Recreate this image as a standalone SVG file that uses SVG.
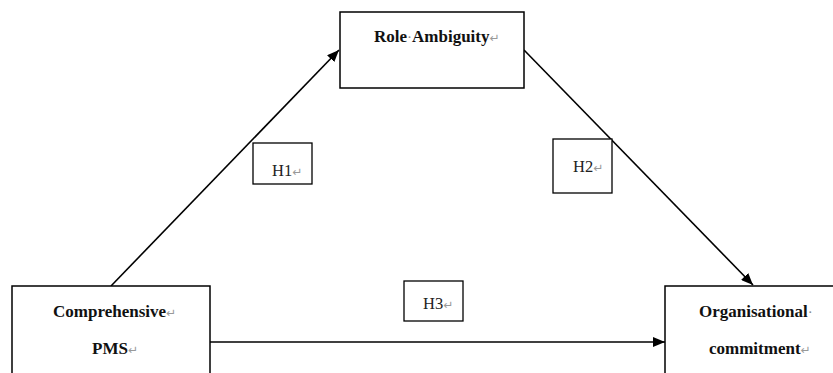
<svg xmlns="http://www.w3.org/2000/svg" width="833" height="373" viewBox="0 0 833 373">
<style>
.box{fill:#fff;stroke:#000;stroke-width:1.5}
.hbox{fill:#fff;stroke:#000;stroke-width:1.3}
.t{font-family:"Liberation Serif","Times New Roman",serif;font-size:17px;font-weight:bold;fill:#111}
.h{font-family:"Liberation Serif","Times New Roman",serif;font-size:16.5px;fill:#222}
.m{font-family:"DejaVu Sans",sans-serif;font-weight:normal;font-size:12px;fill:#999}
.d{font-family:"Liberation Serif",serif;font-weight:normal;font-size:15px;fill:#888}
.ln{stroke:#000;stroke-width:1.6;fill:none}
</style>
<defs>
<marker id="ah" viewBox="0 0 12 10" refX="12" refY="5" markerWidth="12" markerHeight="10" markerUnits="userSpaceOnUse" orient="auto">
<path d="M0,0 L12,5 L0,10 Z" fill="#000"/>
</marker>
</defs>
<rect width="833" height="373" fill="#fff"/>
<g id="connectors">
<line class="ln" x1="111" y1="286" x2="339" y2="50" marker-end="url(#ah)"/>
<line class="ln" x1="524" y1="50" x2="753" y2="285" marker-end="url(#ah)"/>
<line class="ln" x1="210" y1="342" x2="665" y2="342" marker-end="url(#ah)"/>
</g>
<g id="role-ambiguity">
<rect class="box" x="340" y="12" width="184" height="76"/>
<text class="t" x="374" y="42">Role<tspan class="d">·</tspan>Ambiguity<tspan class="m">↵</tspan></text>
</g>
<g id="comprehensive-pms">
<rect class="box" x="12" y="286" width="198" height="100"/>
<text class="t" x="53" y="317">Comprehensive<tspan class="m">↵</tspan></text>
<text class="t" x="92" y="354">PMS<tspan class="m">↵</tspan></text>
</g>
<g id="organisational-commitment">
<rect class="box" x="665" y="286" width="180" height="100"/>
<text class="t" x="699" y="317">Organisational<tspan class="d">·</tspan></text>
<text class="t" x="709" y="354">commitment<tspan class="m">↵</tspan></text>
</g>
<g id="h1">
<rect class="hbox" x="253" y="143" width="59" height="41"/>
<text class="h" x="272" y="176">H1<tspan class="m">↵</tspan></text>
</g>
<g id="h2">
<rect class="hbox" x="553" y="139" width="59" height="54"/>
<text class="h" x="573" y="172">H2<tspan class="m">↵</tspan></text>
</g>
<g id="h3">
<rect class="hbox" x="404" y="281" width="59" height="40"/>
<text class="h" x="423" y="309">H3<tspan class="m">↵</tspan></text>
</g>
</svg>
